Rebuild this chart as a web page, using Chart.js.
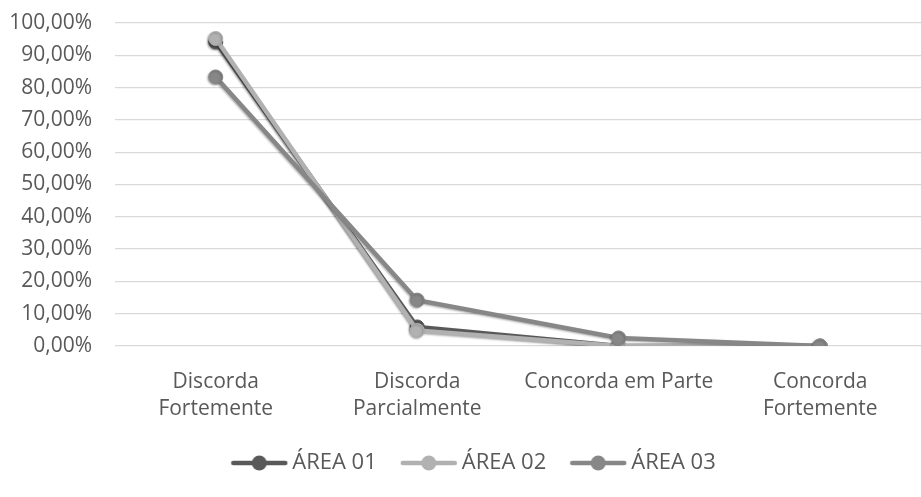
<!DOCTYPE html>
<html lang="pt">
<head>
<meta charset="UTF-8">
<title>Áreas</title>
<script src="https://cdn.jsdelivr.net/npm/chart.js@4.4.1/dist/chart.umd.min.js"></script>
<style>
  body { margin: 0; background: #fff; }
  #box { width: 921px; height: 497px; }
</style>
</head>
<body>
<div id="box">
  <canvas id="grafico" width="921" height="497"></canvas>
</div>
<script>
// respostas por categoria (%)
const categorias = [
    ['Discorda', 'Fortemente'],
    ['Discorda', 'Parcialmente'],
    'Concorda em Parte',
    ['Concorda', 'Fortemente']
];
const area01 = [94.1, 5.9, 0, 0];
const area02 = [95.2, 4.8, 0, 0];
const area03 = [83.3, 14.2, 2.5, 0];
const nomes = ['ÁREA 01', 'ÁREA 02', 'ÁREA 03'];
const cores = ['#595959', '#b1b1b1', '#878787'];

const fonte = 'Open Sans';
const corTexto = '#595959';

// icone da legenda: linha com bolinha no meio
var icone = function(cor) {
    var c = document.createElement('canvas');
    c.width = 58;
    c.height = 18;
    var g = c.getContext('2d');
    g.strokeStyle = cor;
    g.lineWidth = 4.5;
    g.lineCap = 'round';
    g.beginPath();
    g.moveTo(3, 9);
    g.lineTo(55, 9);
    g.stroke();
    g.fillStyle = cor;
    g.beginPath();
    g.arc(29, 9, 7.5, 0, Math.PI * 2);
    g.fill();
    return c;
}
const icones = cores.map(icone);

// sombra leve nas linhas
const sombra = {
    id: 'sombra',
    beforeDatasetsDraw(chart) {
        const ctx = chart.ctx;
        ctx.save();
        ctx.shadowColor = 'rgba(0,0,0,0.3)';
        ctx.shadowBlur = 2;
        ctx.shadowOffsetX = -1;
        ctx.shadowOffsetY = 1;
    },
    afterDatasetsDraw(chart) {
        chart.ctx.restore();
    }
};

// empurra a legenda um pouco pra direita
const moveLegenda = {
    id: 'moveLegenda',
    afterLayout(chart) {
        chart.legend.left += 16;
        chart.legend.right += 16;
    }
};

var serie = function(i, valores, ordem) {
    return {
        label: nomes[i],
        data: valores,
        borderColor: cores[i],
        backgroundColor: cores[i],
        borderWidth: 4.5,
        pointRadius: 7,
        pointBorderWidth: 1,
        pointBorderColor: cores[i],
        pointBackgroundColor: cores[i],
        tension: 0,
        order: ordem
    };
}

const ctx = document.getElementById('grafico').getContext('2d');
const grafico = new Chart(ctx, {
    type: 'line',
    data: {
        labels: categorias,
        datasets: [
            serie(0, area01, 3),
            serie(1, area02, 2),
            serie(2, area03, 1)
        ]
    },
    options: {
        responsive: false,
        animation: false,
        layout: {
            autoPadding: false,
            padding: { top: 23, right: 0, bottom: 13, left: 0 }
        },
        scales: {
            x: {
                offset: true,
                grid: { display: false },
                border: { display: false },
                ticks: {
                    color: corTexto,
                    font: { family: fonte, size: 21, lineHeight: 1.3 },
                    padding: 14,
                    maxRotation: 0,
                    autoSkip: false
                },
                afterFit(scale) {
                    scale.height = 76;
                    scale.paddingLeft = 0;
                    scale.paddingRight = 0;
                }
            },
            y: {
                min: 0,
                max: 100,
                grid: { color: '#d9d9d9', lineWidth: 1.3, drawTicks: false },
                border: { display: false },
                ticks: {
                    stepSize: 10,
                    color: corTexto,
                    font: { family: fonte, size: 21 },
                    padding: 23,
                    callback: function(v) {
                        return v.toFixed(2).replace('.', ',') + '%';
                    }
                },
                afterFit(scale) {
                    scale.width = 115;
                    scale.paddingTop = 0;
                    scale.paddingBottom = 0;
                }
            }
        },
        plugins: {
            tooltip: { enabled: false },
            legend: {
                position: 'bottom',
                labels: {
                    color: corTexto,
                    font: { family: fonte, size: 22 },
                    usePointStyle: true,
                    pointStyleWidth: 44,
                    padding: 30,
                    generateLabels(chart) {
                        const itens = Chart.defaults.plugins.legend.labels.generateLabels(chart);
                        itens.forEach(function(it) {
                            it.pointStyle = icones[it.datasetIndex];
                        });
                        itens.sort(function(a, b) { return a.datasetIndex - b.datasetIndex; });
                        return itens;
                    }
                }
            }
        }
    },
    plugins: [sombra, moveLegenda]
});
</script>
</body>
</html>
